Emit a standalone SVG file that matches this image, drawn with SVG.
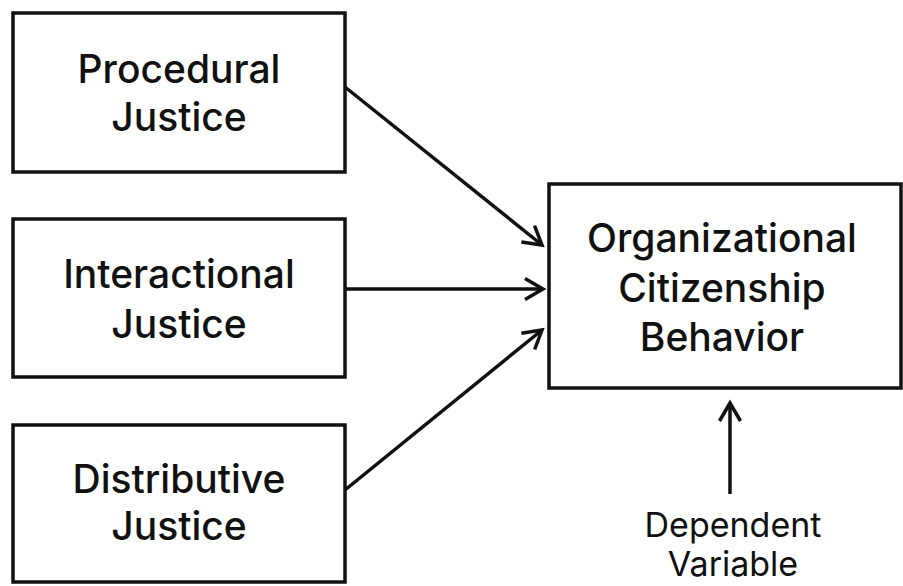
<svg xmlns="http://www.w3.org/2000/svg" width="903" height="586" viewBox="0 0 903 586">
  <defs>
    <style>
      .box { fill: #ffffff; stroke: #111111; stroke-width: 3.5; }
      .lbl { font-family: Inter, "Liberation Sans", sans-serif; font-size: 39px; font-weight: 500; fill: #111111; text-anchor: middle; }
      .note { font-family: Inter, "Liberation Sans", sans-serif; font-size: 34px; font-weight: 400; fill: #111111; text-anchor: middle; }
      .conn { stroke: #111111; stroke-width: 3.5; fill: none; marker-end: url(#head); }
    </style>
    <marker id="head" viewBox="0 0 12 12" refX="11" refY="6" markerWidth="12" markerHeight="12" markerUnits="userSpaceOnUse" orient="auto" overflow="visible">
      <path d="M-7,-4.5 L11,6 L-7,16.5" fill="none" stroke="#111111" stroke-width="3.5" stroke-linecap="butt" stroke-linejoin="miter"/>
    </marker>
  </defs>
  <rect width="903" height="586" fill="#ffffff"/>
  <g id="procedural">
    <rect class="box" x="13" y="13" width="332" height="159"/>
    <text class="lbl" x="179" y="83">Procedural</text>
    <text class="lbl" x="179" y="131">Justice</text>
  </g>
  <g id="interactional">
    <rect class="box" x="13" y="219" width="332" height="158"/>
    <text class="lbl" x="179" y="288">Interactional</text>
    <text class="lbl" x="179" y="338">Justice</text>
  </g>
  <g id="distributive">
    <rect class="box" x="13" y="425" width="332" height="157"/>
    <text class="lbl" x="179" y="493">Distributive</text>
    <text class="lbl" x="179" y="540">Justice</text>
  </g>
  <g id="ocb">
    <rect class="box" x="549" y="184" width="352" height="204"/>
    <text class="lbl" x="722" y="252">Organizational</text>
    <text class="lbl" x="722" y="302">Citizenship</text>
    <text class="lbl" x="722" y="351">Behavior</text>
  </g>
  <g id="dependent-label">
    <text class="note" x="733" y="537">Dependent</text>
    <text class="note" x="733" y="576">Variable</text>
  </g>
  <g id="connectors">
    <line class="conn" x1="345" y1="87" x2="542" y2="245"/>
    <line class="conn" x1="345" y1="289" x2="543" y2="289"/>
    <line class="conn" x1="345" y1="490" x2="542" y2="330"/>
    <line class="conn" x1="730" y1="494" x2="730" y2="403"/>
  </g>
</svg>
